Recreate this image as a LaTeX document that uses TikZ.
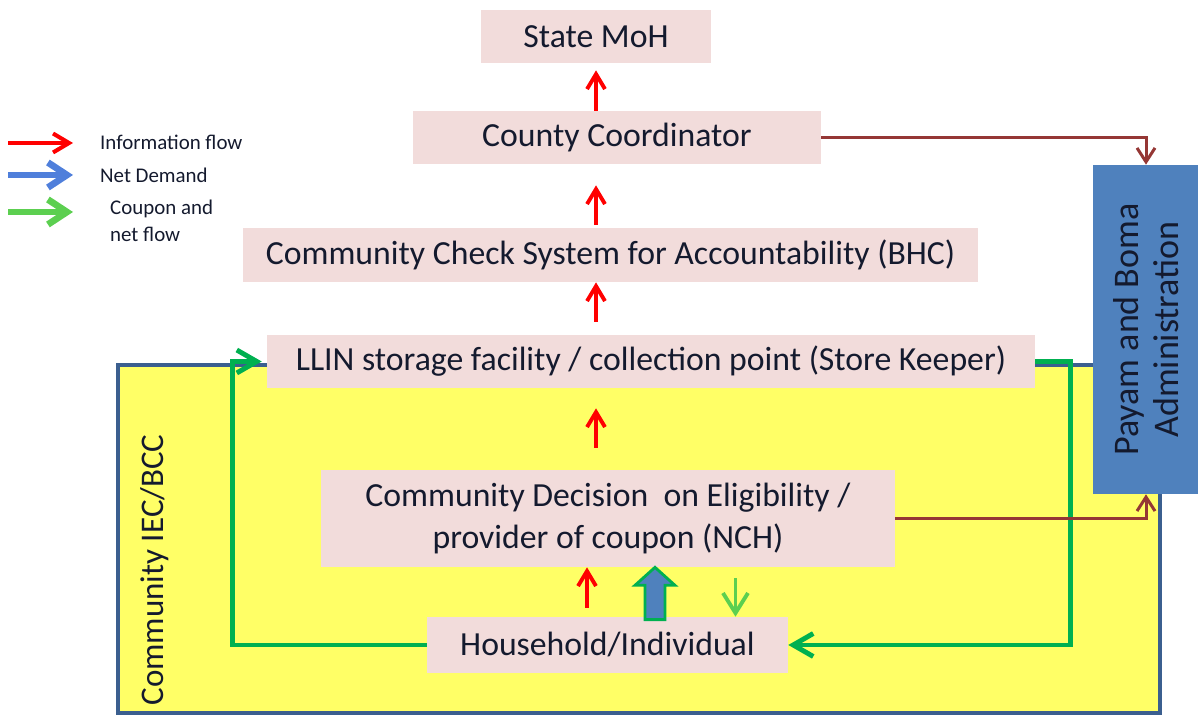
\documentclass[tikz,border=0pt]{standalone}
\usepackage{fontspec}
\setmainfont{Carlito}
\usetikzlibrary{arrows.meta}

\definecolor{boxpink}{HTML}{F2DCDB}
\definecolor{iecyellow}{HTML}{FFFF66}
\definecolor{frameblue}{HTML}{3B5F8F}
\definecolor{adminblue}{HTML}{4F81BD}
\definecolor{linkbrown}{HTML}{953735}
\definecolor{flowgreen}{HTML}{00B050}
\definecolor{lightgreen}{HTML}{5CCF50}
\definecolor{demandblue}{HTML}{4F7FDB}
\definecolor{inkblue}{HTML}{141A2E}

\tikzset{
  box/.style={fill=boxpink, inner sep=0pt, align=center, text=inkblue,
    font=\fontsize{19.2}{24}\selectfont},
  frame/.style={fill=iecyellow, draw=frameblue, line width=2.2pt},
  info/.style={red, line width=2.2pt, -{Straight Barb[length=3mm,width=3.6mm]}},
  coupon/.style={flowgreen, line width=2.8pt, -{Straight Barb[length=4mm,width=4.6mm]}},
  admin/.style={linkbrown, line width=1.7pt, -{Straight Barb[length=2.8mm,width=3.6mm]}},
  legend/.style={anchor=west, align=left, text=inkblue, font=\fontsize{11.9}{15}\selectfont}
}

\begin{document}
\begin{tikzpicture}[x=0.02cm, y=-0.02cm]
  \useasboundingbox (0,0) rectangle (1198,715);

  % Community frame
  \node[frame, minimum width=20.84cm, minimum height=6.96cm] (iec) at (639,539) {};
  \node[rotate=90, text=inkblue, font=\fontsize{18.8}{20}\selectfont] (ieclbl) at (155,570) {Community IEC/BCC};

  % Payam and Boma
  \node[fill=adminblue, minimum width=2.12cm, minimum height=6.58cm] (payam) at (1146,329.5) {};
  \node[rotate=90, align=center, text=inkblue, font=\fontsize{20.5}{22.5}\selectfont] (payamlbl) at (payam.center) {Payam and Boma\\Administration};

  % Boxes
  \node[box, minimum width=4.6cm, minimum height=1.06cm] (moh) at (596,36.5) {State MoH};
  \node[box, minimum width=8.16cm, minimum height=1.06cm] (cc) at (617,137.5) {County Coordinator};
  \node[box, minimum width=14.7cm, minimum height=1.08cm] (ccs) at (610.5,255) {Community Check System for Accountability (BHC)};
  \node[box, minimum width=15.36cm, minimum height=1.06cm] (llin) at (651,361.5) {LLIN storage facility / collection point (Store Keeper)};
  \node[box, minimum width=11.48cm, minimum height=1.94cm] (ncd) at (608,518.5) {Community Decision\ \ on Eligibility /\\provider of coupon (NCH)};
  \node[box, minimum width=7.22cm, minimum height=1.12cm] (hh) at (607.5,645) {Household/Individual};

  % Information flow
  \draw[info, shorten >=0.14cm] (cc.north -| moh.south) -- (moh.south);
  \draw[info, shorten <=0.06cm, shorten >=0.42cm] (ccs.north -| moh.south) -- (cc.south -| moh.south);
  \draw[info, shorten <=0.26cm] (llin.north -| moh.south) -- (ccs.south -| moh.south);
  \draw[info, shorten <=0.44cm, shorten >=0.4cm] (ncd.north -| moh.south) -- (llin.south -| moh.south);
  \draw[info, shorten <=0.18cm] ([xshift=-0.41cm]hh.north) -- ([xshift=-0.41cm]hh.north |- ncd.south);

  % Net demand
  \coordinate (dbase) at ([xshift=0.95cm]hh.north);
  \coordinate (dtip) at (dbase |- ncd.south);
  \draw[flowgreen, fill=adminblue, line width=1.6pt, line join=miter]
    ([xshift=-0.2cm,yshift=-0.06cm]dbase) -- ([xshift=-0.2cm,yshift=-0.36cm]dtip)
    -- ([xshift=-0.4cm,yshift=-0.36cm]dtip) -- (dtip) -- ([xshift=0.4cm,yshift=-0.36cm]dtip)
    -- ([xshift=0.2cm,yshift=-0.36cm]dtip) -- ([xshift=0.2cm,yshift=-0.06cm]dbase) -- cycle;

  % Coupon and net flow
  \draw[lightgreen, line width=2.2pt, -{Straight Barb[length=4mm,width=5mm]}, shorten <=0.22cm]
    ([xshift=2.55cm]ncd.south) -- ([xshift=2.55cm]ncd.south |- hh.north);
  \draw[coupon, shorten >=0.1cm] (hh.west) -| ([xshift=-0.68cm]llin.west) -- (llin.west);
  \draw[coupon] (llin.east) -- ([xshift=0.7cm]llin.east) |- (hh.east);

  % Links to administration
  \draw[admin] (cc.east) -| (payam.north);
  \draw[admin] (ncd.east) -| (payam.south);

  % Legend
  \coordinate (leg1a) at (8,143);
  \coordinate (leg1b) at (73,143);
  \coordinate (leg2a) at (8,175);
  \coordinate (leg2b) at (73,175);
  \coordinate (leg3a) at (8,212);
  \coordinate (leg3b) at (73,212);
  \draw[red, line width=2.3pt, -{Straight Barb[length=3.2mm,width=3.8mm]}] (leg1a) -- (leg1b);
  \draw[demandblue, line width=3.8pt, -{Straight Barb[length=3.8mm,width=5mm]}] (leg2a) -- (leg2b);
  \draw[lightgreen, line width=3.8pt, -{Straight Barb[length=3.8mm,width=5mm]}] (leg3a) -- (leg3b);
  \node[legend] (leg1) at (94,142) {Information flow};
  \node[legend] (leg2) at (94,175) {Net Demand};
  \node[legend] (leg3) at (104,221) {Coupon and\\net flow};
\end{tikzpicture}
\end{document}
